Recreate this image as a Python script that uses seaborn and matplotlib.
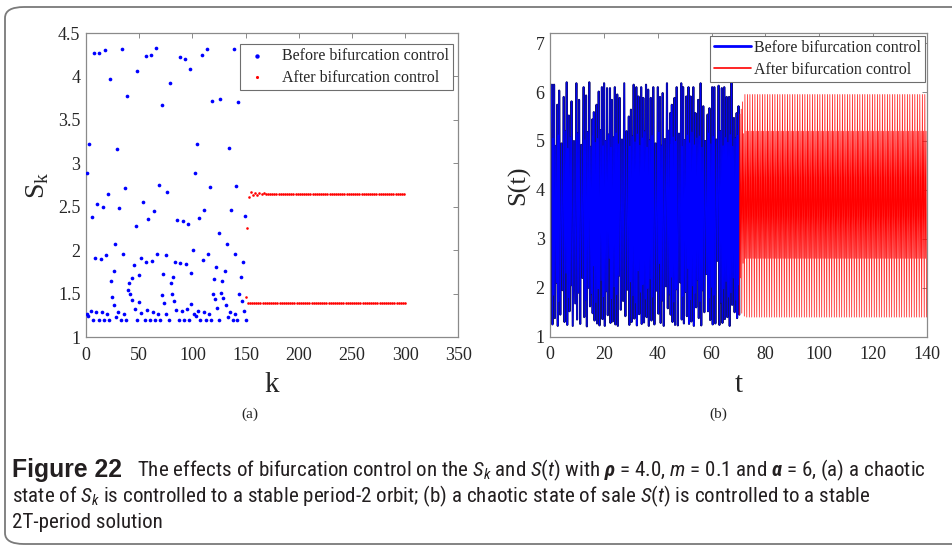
import numpy as np
import pandas as pd
import matplotlib
matplotlib.use("Agg")
import matplotlib.pyplot as plt
import matplotlib.patheffects as pe
import seaborn as sns
from matplotlib import font_manager
from matplotlib.patches import FancyBboxPatch

# ---------------- data ----------------
# (a) sampled sales S_k before control (k, value)
k_before = [0.6, 1.2, 2.0, 3.0, 4.7, 5.6, 7.0, 7.8, 8.8, 9.7,
            10.6, 12.0, 12.5, 13.8, 14.7, 15.6, 17.0, 18.0, 18.8, 19.7,
            20.6, 22.0, 22.5, 23.5, 24.4, 26.0, 26.3, 27.5, 28.5, 29.4,
            30.3, 31.3, 33.0, 34.0, 35.0, 36.0, 36.3, 37.5, 38.5, 39.4,
            40.4, 41.0, 43.0, 43.5, 44.7, 45.7, 46.6, 47.5, 48.0, 49.7,
            50.0, 51.6, 52.0, 53.5, 55.0, 56.0, 56.6, 57.0, 58.5, 60.0,
            61.0, 61.6, 62.6, 63.5, 65.0, 66.0, 66.6, 67.6, 69.0, 70.0,
            71.0, 71.3, 72.6, 73.2, 74.8, 75.4, 76.3, 77.6, 78.5, 79.8,
            80.4, 81.6, 82.3, 83.8, 85.0, 86.0, 87.0, 88.0, 88.8, 90.0,
            91.0, 92.0, 93.0, 93.8, 95.0, 95.7, 97.0, 98.0, 98.5, 99.1,
            100.4, 101.7, 102.6, 103.0, 104.5, 105.7, 106.4, 107.6, 109.0, 110.0,
            111.0, 111.4, 112.6, 114.0, 114.8, 115.4, 116.4, 117.6, 118.6, 119.5,
            120.7, 121.4, 122.6, 123.5, 124.8, 125.4, 126.0, 127.3, 128.3, 129.2,
            131.0, 131.3, 132.3, 133.8, 134.5, 135.0, 136.4, 138.0, 139.0, 139.8,
            140.0, 141.4, 141.7, 143.0, 144.2, 145.4, 146.4, 147.9, 148.6, 149.5,
            150.8]
s_before = [1.26, 2.89, 1.24, 3.22, 1.30, 2.38, 1.19, 4.27, 1.91, 1.29,
            2.53, 1.19, 4.27, 1.90, 1.29, 2.50, 1.19, 4.30, 1.94, 1.27,
            2.65, 1.19, 3.97, 1.65, 1.46, 1.76, 1.37, 2.07, 1.23, 3.17,
            1.29, 2.48, 1.19, 4.32, 1.96, 1.26, 2.72, 1.20, 3.78, 1.54,
            1.62, 1.50, 1.68, 1.43, 1.83, 1.32, 2.28, 1.19, 4.06, 1.71,
            1.40, 1.91, 1.28, 2.55, 1.19, 4.23, 1.86, 1.31, 2.36, 1.19,
            4.25, 1.88, 1.29, 2.45, 1.19, 4.33, 1.96, 1.27, 2.75, 1.20,
            3.67, 1.48, 1.72, 1.39, 1.94, 1.27, 2.67, 1.19, 3.93, 1.62,
            1.49, 1.69, 1.42, 1.86, 1.31, 2.35, 1.19, 4.22, 1.85, 1.30,
            2.34, 1.19, 4.20, 1.84, 1.32, 2.30, 1.19, 4.09, 1.74, 1.38,
            2.00, 1.26, 2.89, 1.24, 3.22, 1.30, 2.37, 1.19, 4.25, 1.89,
            1.29, 2.46, 1.19, 4.32, 1.96, 1.26, 2.73, 1.20, 3.72, 1.50,
            1.67, 1.44, 1.81, 1.33, 2.20, 1.20, 3.74, 1.51, 1.65, 1.45,
            1.76, 1.37, 2.07, 1.23, 3.18, 1.29, 2.46, 1.19, 4.32, 1.96,
            1.26, 2.74, 1.20, 3.70, 1.49, 1.69, 1.42, 1.86, 1.30, 2.39,
            1.19]

# (a) S_k after control: short transient, then the period-2 orbit
k_after = list(range(150, 301))
s_after = ([1.46, 2.25, 1.39, 2.61, 1.39, 2.67, 1.39, 2.63, 1.39, 2.66,
            1.39, 2.64, 1.39, 2.66, 1.39, 2.645, 1.39, 2.655]
           + [1.39, 2.65] * 66 + [1.39])

# (b) S(t) before control: start value, tall maxima (time, value),
# and the minima / lower maxima lying between two tall maxima
t_start, s_start = 0.0, 4.99
peak_t = [0.6, 1.4, 2.6, 3.3, 5.0, 6.1, 6.9, 7.9, 9.7, 10.7,
          12.4, 13.3, 14.5, 15.6, 16.2, 17.2, 18.0, 19.2, 20.0, 21.1,
          22.2, 22.9, 24.0, 24.9, 25.8, 27.5, 29.2, 30.0, 31.0, 32.0,
          32.8, 33.8, 34.6, 35.6, 36.4, 37.4, 38.3, 40.0, 40.8, 41.8,
          43.4, 44.6, 45.2, 46.2, 47.0, 48.7, 49.4, 50.6, 51.4, 52.2,
          53.2, 54.0, 55.0, 55.9, 56.9, 58.5, 59.2, 60.2, 61.0, 62.6,
          63.8, 64.7, 65.6, 66.5, 67.4, 68.3, 69.3, 70.0]
peak_s = [6.15, 6.15, 5.74, 6.03, 5.90, 6.20, 5.52, 5.81, 6.18, 5.84,
          6.10, 5.93, 6.20, 5.44, 5.59, 5.74, 6.01, 6.10, 6.18, 6.08,
          6.08, 5.84, 6.10, 5.95, 5.88, 6.18, 5.50, 5.64, 6.15, 6.10,
          5.91, 6.10, 5.88, 6.15, 6.05, 5.88, 6.10, 6.10, 5.90, 5.98,
          6.18, 5.57, 5.74, 5.88, 6.10, 6.18, 6.10, 5.91, 6.10, 5.91,
          6.10, 5.57, 5.84, 6.18, 5.71, 5.54, 5.67, 6.10, 6.10, 6.13,
          6.08, 6.10, 5.90, 5.90, 6.20, 5.47, 5.57, 5.71]
trough_s = [1.25, 1.38, 1.22, 1.45, 1.30, 1.24, 1.52, 1.22, 1.35, 1.26,
            1.40, 1.21, 1.62, 1.48, 1.33, 1.27, 1.23, 1.36, 1.22, 1.44,
            1.28, 1.31, 1.25, 1.22, 1.55, 1.42, 1.24, 1.30, 1.37, 1.23,
            1.46, 1.26, 1.29, 1.40, 1.22, 1.33, 1.25, 1.47, 1.28, 1.22,
            1.58, 1.45, 1.30, 1.24, 1.23, 1.35, 1.27, 1.42, 1.26, 1.31,
            1.22, 1.60, 1.38, 1.23, 1.50, 1.52, 1.34, 1.25, 1.27, 1.24,
            1.28, 1.36, 1.40, 1.22, 1.65, 1.50, 1.38]
inner_peak_s = [5.05, 4.90, 5.12, 4.95, 5.20, 4.85, 5.08, 5.00, 5.15, 4.92,
                5.02, 5.18, 4.88, 5.10, 4.97, 5.05, 5.22, 4.90, 5.00, 5.13,
                4.86, 5.07, 5.16, 4.94, 5.03, 5.20, 4.89, 5.09, 4.98, 5.14,
                4.91, 5.06, 5.19, 4.87, 5.01, 5.11, 4.95, 5.17, 4.90, 5.04,
                5.21, 4.93, 5.08, 4.99, 5.15, 4.88, 5.02, 5.12, 4.96, 5.18,
                4.92, 5.06, 5.10, 4.87, 5.00, 5.16, 4.94, 5.09, 5.03, 5.20,
                4.90, 5.07, 4.97, 5.13, 4.89, 5.05, 5.11]
inner_trough_s = [1.85, 2.10, 1.72, 1.95, 2.30, 1.80, 2.05, 1.68, 1.90, 2.20,
                  1.75, 2.00, 1.88, 2.45, 1.70, 1.98, 2.15, 1.82, 1.93, 2.60,
                  1.78, 2.02, 1.86, 2.25, 1.73, 1.96, 2.12, 1.84, 1.69, 2.35,
                  1.91, 2.07, 1.77, 1.99, 2.18, 1.81, 1.94, 2.50, 1.74, 2.03,
                  1.87, 2.22, 1.71, 1.97, 2.11, 1.83, 1.92, 2.40, 1.76, 2.04,
                  1.89, 2.16, 1.72, 1.95, 2.28, 1.79, 2.01, 1.85, 2.55, 1.70,
                  1.98, 2.13, 1.81, 1.90, 2.20, 1.75, 2.06]
t_switch, s_switch = 70.3, 1.45

# (b) S(t) after control: transient extrema, then the 2T-periodic extrema
t_end = 140.0
n_periods_after = 150
red_transient = [1.45, 5.55, 2.20, 5.65, 1.48, 5.80, 2.50, 5.15, 1.42]
red_cycle = [5.95, 2.60, 5.20, 1.40]

# ---------------- fonts ----------------
def first_font(names):
    for n in names:
        try:
            font_manager.findfont(font_manager.FontProperties(family=n),
                                  fallback_to_default=False)
            return n
        except Exception:
            continue
    return "DejaVu Sans"


SERIF = first_font(["Liberation Serif", "DejaVu Serif"])
CAP = first_font(["Liberation Sans Narrow", "Roboto Condensed", "Roboto", "Liberation Sans"])
CAP_HEAD = first_font(["Liberation Sans", "Roboto", "DejaVu Sans"])

sns.set_theme(style="white")
plt.rcParams.update({
    "font.family": [SERIF, "DejaVu Serif"],
    "mathtext.fontset": "custom",
    "mathtext.rm": CAP,
    "mathtext.it": CAP + ":italic",
    "mathtext.bf": CAP + ":bold",
    "mathtext.bfit": CAP + ":italic:bold",
    "mathtext.sf": SERIF,
})

# ---------------- tables ----------------
df_a_before = pd.DataFrame({"k": k_before, "S": s_before})
df_a_after = pd.DataFrame({"k": k_after, "S": s_after})

blue_t = [t_start]
blue_s = [s_start]
for i, (pt, ps) in enumerate(zip(peak_t, peak_s)):
    blue_t.append(pt)
    blue_s.append(ps)
    if i < len(trough_s):
        span = peak_t[i + 1] - pt
        blue_t += [pt + 0.25 * span, pt + 0.5 * span, pt + 0.75 * span]
        blue_s += [trough_s[i], inner_peak_s[i], inner_trough_s[i]]
blue_t.append(t_switch)
blue_s.append(s_switch)
df_b_before = pd.DataFrame({"t": blue_t, "S": blue_s})

red_s = red_transient + red_cycle * ((2 * n_periods_after + 1 - len(red_transient)) // 4)
half_step = (t_end - t_switch) / (len(red_s) - 1)
red_t = [t_switch + i * half_step for i in range(len(red_s))]
df_b_after = pd.DataFrame({"t": red_t, "S": red_s})

# ---------------- figure ----------------
W, H = 953, 548
fig = plt.figure(figsize=(W / 100, H / 100), dpi=100)
fig.patch.set_facecolor("white")


def rect(l, t, r, b):
    return [l / W, 1 - b / H, (r - l) / W, (b - t) / H]


# rounded frame around the whole figure panel
frame = FancyBboxPatch((5 / W, 4 / H), (975 - 5) / W, (541 - 4) / H,
                       boxstyle="round,pad=0,rounding_size=0.02",
                       transform=fig.transFigure, facecolor="none",
                       edgecolor="#7a7a7a", linewidth=1.3, clip_on=False)
fig.patches.append(frame)

ax1 = fig.add_axes(rect(86, 33, 458.3, 337))
ax2 = fig.add_axes(rect(550.3, 33.3, 926.7, 336.7))

BLUE, RED = "#0000ff", "#ff0000"
TXT = "#262626"

sns.scatterplot(data=df_a_before, x="k", y="S", ax=ax1, color=BLUE, s=7,
                linewidth=0, label="Before bifurcation control", zorder=3)
sns.scatterplot(data=df_a_after, x="k", y="S", ax=ax1, color=RED, s=3.5,
                linewidth=0, label="After bifurcation control", zorder=3)

sns.lineplot(data=df_b_before, x="t", y="S", ax=ax2, color=BLUE, lw=0.7,
             sort=False, estimator=None, label="Before bifurcation control")
sns.lineplot(data=df_b_after, x="t", y="S", ax=ax2, color=RED, lw=0.5,
             sort=False, estimator=None, label="After bifurcation control")
# darker rims on the blue trace
ax2.lines[0].set_path_effects([pe.Stroke(linewidth=1.5, foreground="#12126e"), pe.Normal()])

ax1.set_xlim(0, 350)
ax1.set_ylim(1, 4.5)
ax1.set_xticks(np.arange(0, 351, 50))
ax1.set_yticks(np.arange(1, 4.51, 0.5))
ax1.set_yticklabels(["1", "1.5", "2", "2.5", "3", "3.5", "4", "4.5"])

ax2.set_xlim(0, 140)
ax2.set_ylim(1, 7.2)
ax2.set_xticks(np.arange(0, 141, 20))
ax2.set_yticks(np.arange(1, 8, 1))

for ax in (ax1, ax2):
    for sp in ax.spines.values():
        sp.set_visible(True)
        sp.set_color("#8a8a8a")
        sp.set_linewidth(0.9)
    ax.tick_params(axis="both", direction="in", length=3.5, width=0.7,
                   color="#8a8a8a", top=True, right=True, labelsize=13,
                   labelcolor=TXT, labelfontfamily=SERIF)
    ax.tick_params(axis="x", pad=7)
    ax.tick_params(axis="y", pad=4)
    ax.set_facecolor("white")

ax1.set_xlabel("k", fontsize=21, color=TXT, labelpad=6)
ax1.set_ylabel(r"$\mathsf{S}_{\mathsf{k}}$", fontsize=20, color=TXT, labelpad=5)
ax2.set_xlabel("t", fontsize=21, color=TXT, labelpad=6)
ax2.set_ylabel("S(t)", fontsize=19, color=TXT, labelpad=4)

leg1 = ax1.legend(loc="upper right", bbox_to_anchor=(0.986, 0.964),
                  fontsize=11.5, frameon=True, fancybox=False, framealpha=1,
                  edgecolor="#6e6e6e", borderpad=0.25, labelspacing=0.35,
                  handlelength=1.6, handletextpad=0.8, borderaxespad=0,
                  markerscale=1.2)
leg1.get_frame().set_linewidth(0.8)

leg2 = ax2.legend(loc="upper right", bbox_to_anchor=(0.9955, 0.991),
                  fontsize=11.5, frameon=True, fancybox=False, framealpha=1,
                  edgecolor="#6e6e6e", borderpad=0.25, labelspacing=0.35,
                  handlelength=2.3, handletextpad=0.2, borderaxespad=0)
leg2.get_frame().set_linewidth(0.8)
for ln, w in zip(leg2.get_lines(), (2.0, 1.2)):
    ln.set_linewidth(w)
    ln.set_path_effects([])

fig.text(250 / W, 1 - 414 / H, "(a)", ha="center", va="center", fontsize=11, color=TXT)
fig.text(718 / W, 1 - 414 / H, "(b)", ha="center", va="center", fontsize=11, color=TXT)

# ---------------- caption ----------------
CAPC = "#231f20"
x_left = 12
head_right = 122
body_left = 137
line1_right = 925
y1, y2, y3 = 1 - 470 / H, 1 - 496 / H, 1 - 522 / H
body_kw = dict(family=[CAP, "DejaVu Sans"], color=CAPC, va="center")
head = fig.text(x_left / W, y1, "Figure 22", fontweight="bold", fontsize=13,
                family=[CAP_HEAD, "DejaVu Sans"], color=CAPC, va="center")
rest1 = fig.text(body_left / W, y1,
                 r"The effects of bifurcation control on the $\mathit{S_k}$ and $\mathit{S}(\mathit{t})$ "
                 r"with $\mathbfit{\rho}$ = 4.0, $\mathit{m}$ = 0.1 and $\mathbfit{\alpha}$ = 6, (a) a chaotic",
                 fontsize=13, **body_kw)
line2 = fig.text(x_left / W, y2,
                 r"state of $\mathit{S_k}$ is controlled to a stable period-2 orbit; (b) a chaotic state of sale "
                 r"$\mathit{S}(\mathit{t})$ is controlled to a stable",
                 fontsize=13, **body_kw)
line3 = fig.text(x_left / W, y3, "2T-period solution", fontsize=13, **body_kw)

renderer = fig.canvas.get_renderer()
body_fs = 13 * (line1_right - body_left) / rest1.get_window_extent(renderer).width
head_fs = 13 * (head_right - x_left) / head.get_window_extent(renderer).width
head.set_fontsize(min(head_fs, body_fs * 1.18))
for t in (rest1, line2, line3):
    t.set_fontsize(body_fs)

fig.savefig("out.png", dpi=100, facecolor="white")
